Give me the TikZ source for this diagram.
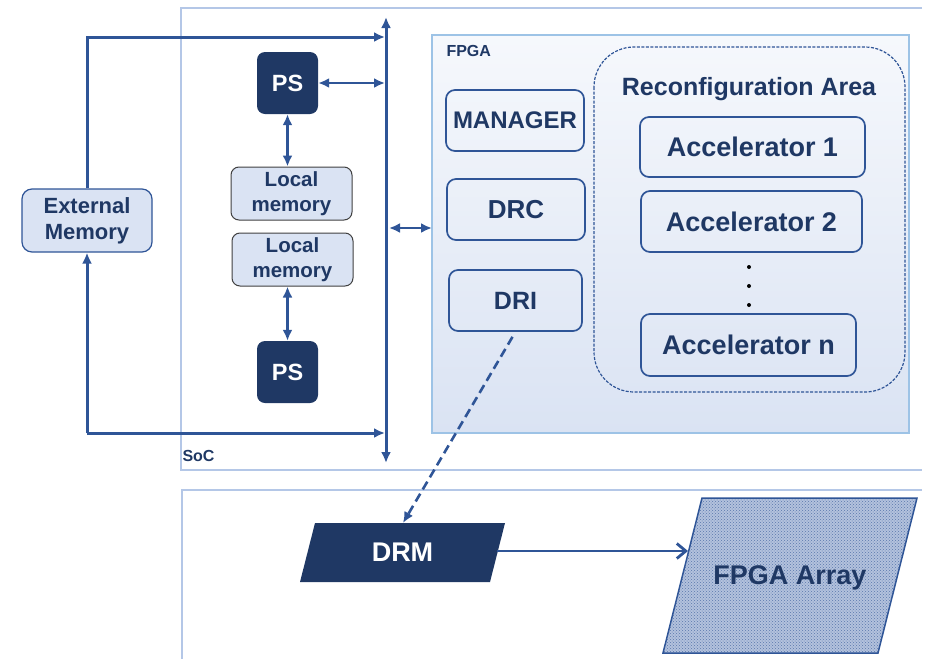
\documentclass[tikz,border=0pt]{standalone}
\usepackage{fontspec}
\setmainfont{Liberation Sans}
\usetikzlibrary{arrows.meta, patterns, positioning, calc}
\definecolor{navy}{HTML}{1F3864}
\definecolor{lineblue}{HTML}{2F5597}
\definecolor{boxfill}{HTML}{DAE3F3}
\definecolor{socline}{HTML}{B4C7E7}
\definecolor{fpgaline}{HTML}{9DC3E6}
\definecolor{arrayfill}{HTML}{B3C2DD}
\newcommand{\busArrow}{{Latex[length=11pt, width=10pt]}}
\newcommand{\sz}[1]{\fontsize{#1}{#1}\selectfont}

\begin{document}
\begin{tikzpicture}[x=1pt, y=-1pt, font=\bfseries, text=navy,
	link/.style={draw=lineblue, line width=2.6pt},
	block/.style={draw=lineblue, line width=1.7pt, rounded corners=9pt, inner sep=0pt, font=\bfseries\sz{25}},
	accbox/.style={block, font=\bfseries\sz{27}},
	membox/.style={draw=black!75, fill=boxfill, line width=1pt, rounded corners=8pt, inner sep=0pt, align=center, font=\bfseries\fontsize{20.5}{25}\selectfont, minimum width=121, minimum height=53},
	psbox/.style={fill=navy, rounded corners=8pt, text=white, minimum width=61, minimum height=62, font=\bfseries\sz{23.5}}]
	\useasboundingbox (0,0) rectangle (932,659);

	% SoC frame and lower frame
	\draw[socline, line width=1.2pt] (922,8) -- (181,8) -- (181,470) -- (922,470);
	\node[anchor=west, font=\bfseries\sz{16}] (soc) at (179,456) {SoC};
	\draw[socline, line width=1.2pt] (922,490) -- (182,490) -- (182,659);

	% FPGA area
	\shade[top color=boxfill!25, bottom color=boxfill] (432,35) rectangle (909,433);
	\draw[fpgaline, line width=1.2pt] (432,35) rectangle (909,433);
	\node[anchor=west, font=\bfseries\sz{16}] (fpga) at (443,51) {FPGA};

	\node[block, minimum width=138, minimum height=61, font=\bfseries\sz{24}] (manager) at (515,120.5) {MANAGER};
	\node[block, minimum width=138, minimum height=61, font=\bfseries\sz{26}] (drc) at (516,209.5) {DRC};
	\node[block, minimum width=133, minimum height=61] (dri) at (515.5,300.5) {DRI};

	% reconfiguration area
	\draw[lineblue, line width=1.2pt, dash pattern=on 3pt off 1.5pt, rounded corners=40pt] (594,47) rectangle (905,392);
	\node[font=\bfseries\sz{25}] (reconf) at (749,89) {Reconfiguration Area};
	\node[accbox, minimum width=225, minimum height=60] (acc1) at (752.5,147) {Accelerator 1};
	\node[accbox, minimum width=221, minimum height=61] (acc2) at (751.5,221.5) {Accelerator 2};
	\node[accbox, minimum width=215, minimum height=62] (accn) at (748.5,345) {Accelerator n};
	\foreach \y in {267,286,305}
		\fill[black] (749,\y) circle (2);

	% processing side
	\node[draw=lineblue, fill=boxfill, line width=1.2pt, rounded corners=10pt, align=center, font=\bfseries\fontsize{22}{26}\selectfont, minimum width=130, minimum height=63] (extmem) at (87,220.5) {External\\Memory};
	\node[psbox] (ps1) at (287.5,83) {PS};
	\node[psbox] (ps2) at (287.5,372) {PS};
	\node[membox] (lm1) at (291.5,193.5) {Local\\memory};
	\node[membox] (lm2) at (292.5,259.5) {Local\\memory};

	% bus
	\coordinate (busT) at (386,17);
	\coordinate (busB) at (386,463);
	\draw[link, line width=3pt, \busArrow-\busArrow] (busT) -- (busB);
	\coordinate (busA) at (385,37);
	\coordinate (busZ) at (385,433);
	\draw[link, line width=3pt, -\busArrow] (extmem.north) |- (busA);
	\draw[link, line width=3pt, -\busArrow] (busZ -| extmem) -- (busZ);
	\draw[link, line width=3pt, -\busArrow] (busZ -| extmem) -- (extmem.south);
	\draw[link, \busArrow-\busArrow] (ps1.east) -- (ps1.east -| busA);
	\draw[link, \busArrow-\busArrow] (ps1.south) -- (lm1.north -| ps1);
	\draw[link, \busArrow-\busArrow] (lm2.south -| ps2) -- (ps2.north);
	\coordinate (fpgaL) at (432,228);
	\draw[link, \busArrow-\busArrow] (389,228) -- (fpgaL);

	% reconfiguration manager and array
	\fill[navy] (315,523) -- (505,523) -- (490,582) -- (300,582) -- cycle;
	\node[text=white, font=\bfseries\sz{27}] (drm) at (402.5,552.5) {DRM};
	\fill[arrayfill] (702,498) -- (917,498) -- (878,653) -- (663,653) -- cycle;
	\fill[pattern=crosshatch dots, pattern color=lineblue!80] (702,498) -- (917,498) -- (878,653) -- (663,653) -- cycle;
	\draw[lineblue, line width=1.5pt] (702,498) -- (917,498) -- (878,653) -- (663,653) -- cycle;
	\node[font=\bfseries\sz{27}] (array) at (790,578) {FPGA Array};

	\coordinate (driOut) at ($(dri.south)+(-3,5)$);
	\coordinate (drmIn) at (403,523);
	\draw[link, dash pattern=on 9pt off 5pt, -\busArrow] (driOut) -- (drmIn);
	\coordinate (drmR) at (497,551);
	\coordinate (arrayL) at (688,551);
	\draw[link, line width=2.8pt, -{Straight Barb[length=9pt, width=15pt]}] (drmR) -- (arrayL);
\end{tikzpicture}
\end{document}
